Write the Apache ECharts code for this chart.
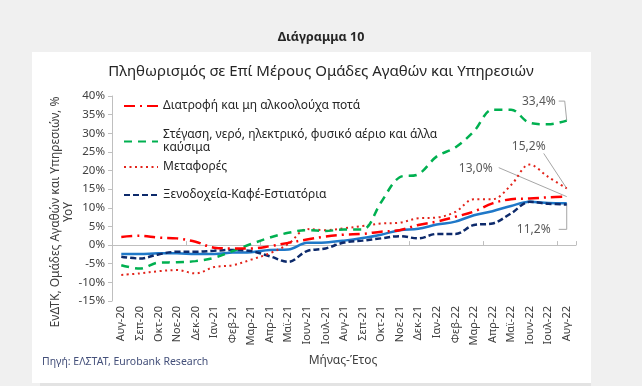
<!DOCTYPE html>
<html><head><meta charset="utf-8">
<script src="https://cdn.jsdelivr.net/npm/echarts@6/dist/echarts.min.js"></script>
<style>html,body{margin:0;padding:0;background:#f0f0f0;}#c{width:642px;height:386px;}</style>
</head><body><div id="c"></div>
<script>
const categories = ['Αυγ-20','Σεπ-20','Οκτ-20','Νοε-20','Δεκ-20','Ιαν-21','Φεβ-21','Μαρ-21','Απρ-21','Μαϊ-21','Ιουν-21','Ιουλ-21','Αυγ-21','Σεπ-21','Οκτ-21','Νοε-21','Δεκ-21','Ιαν-22','Φεβ-22','Μαρ-22','Απρ-22','Μαϊ-22','Ιουν-22','Ιουλ-22','Αυγ-22'];
const food      = [2.2, 2.5, 2.0, 1.8, 0.9, -0.7, -0.9, -0.9, -0.3, 0.6, 1.5, 2.3, 2.8, 3.0, 3.6, 4.0, 5.4, 6.3, 7.6, 9.0, 11.2, 12.3, 12.5, 12.8, 13.0];
const housing   = [-5.4, -6.3, -4.7, -4.6, -4.3, -3.4, -1.6, 0.3, 2.0, 3.3, 4.0, 3.8, 4.2, 4.2, 11.5, 18.2, 19.0, 23.8, 26.2, 30.5, 36.3, 36.3, 32.8, 32.4, 33.4];
const transport = [-8.0, -7.6, -7.0, -6.7, -7.6, -5.9, -5.4, -3.9, -2.2, 0.3, 4.3, 4.0, 4.5, 5.1, 5.8, 6.0, 7.2, 7.4, 8.9, 12.3, 12.3, 16.1, 21.6, 18.3, 15.2];
const hotels    = [-3.1, -3.6, -2.5, -1.8, -1.8, -1.5, -1.3, -1.6, -3.0, -4.5, -1.6, -0.9, 0.7, 1.2, 1.8, 2.4, 1.8, 3.0, 3.0, 5.4, 5.8, 8.5, 11.6, 11.1, 10.9];
const headline  = [-2.4, -2.4, -2.2, -2.2, -2.4, -2.4, -2.0, -1.9, -1.3, -1.2, 0.6, 0.7, 1.2, 1.9, 2.8, 4.0, 4.4, 5.5, 6.3, 8.0, 9.1, 10.5, 11.6, 11.3, 11.2];
const yMin = -15, yMax = 40, yStep = 5;
const names = {
  food: 'Διατροφή και μη αλκοολούχα ποτά',
  housing: 'Στέγαση, νερό, ηλεκτρικό, φυσικό αέριο και άλλα\nκαύσιμα',
  transport: 'Μεταφορές',
  hotels: 'Ξενοδοχεία-Καφέ-Εστιατόρια',
  headline: 'ΕνΔΤΚ'
};
const labels = { housing: '33,4%', transport: '15,2%', food: '13,0%', headline: '11,2%' };

const FONT = 'Noto Sans';
const chart = echarts.init(document.getElementById('c'), null, {renderer: 'canvas'});
const legTxt = {fontFamily: FONT, fontSize: 12, color: '#262626'};
function leg(name, top, extra) {
  return Object.assign({data: [name], left: 123, top: top, padding: 0, itemWidth: 34, itemHeight: 14, itemGap: 0,
    itemStyle: {opacity: 0, color: 'transparent', borderWidth: 0},
    textStyle: Object.assign({}, legTxt), selectedMode: false}, extra || {});
}
const option = {
  backgroundColor: '#f0f0f0',
  animation: false,
  textStyle: {fontFamily: FONT},
  grid: {left: 112, right: 66, top: 96, bottom: 85, containLabel: false},
  xAxis: [
    {type: 'category', data: categories, boundaryGap: true, position: 'bottom',
     axisLine: {show: false, onZero: false}, axisTick: {show: false},
     axisLabel: {rotate: 90, interval: 0, margin: 5, fontFamily: FONT, fontSize: 11, color: '#404040'}},
    {type: 'category', data: categories, boundaryGap: true, position: 'bottom',
     axisLine: {show: true, onZero: true, lineStyle: {color: '#bfbfbf', width: 1}},
     axisTick: {show: true, inside: true, length: 4, lineStyle: {color: '#bfbfbf'}},
     axisLabel: {show: false}}
  ],
  yAxis: {type: 'value', min: yMin, max: yMax, interval: yStep,
    axisLine: {show: true, lineStyle: {color: '#bfbfbf'}},
    axisTick: {show: true, length: 4, lineStyle: {color: '#bfbfbf'}},
    splitLine: {show: false},
    axisLabel: {formatter: '{value}%', margin: 7, fontFamily: FONT, fontSize: 11.5, color: '#404040'}},
  legend: [
    leg(names.food, 100),
    leg(names.housing, 122, {textStyle: Object.assign({}, legTxt, {lineHeight: 13, padding: [13, 0, 0, 0]})}),
    leg(names.transport, 161),
    leg(names.hotels, 189)
  ],
  series: [
    {name: names.headline, type: 'line', data: headline, smooth: 0.35, symbol: 'none', z: 3,
     lineStyle: {color: '#1f78c8', width: 2.5, type: 'solid'}, itemStyle: {color: '#1f78c8'}},
    {name: names.hotels, type: 'line', data: hotels, smooth: 0.35, symbol: 'none',
     lineStyle: {color: '#0d2a6b', width: 2.5, type: [6, 3]}, itemStyle: {color: '#0d2a6b'}},
    {name: names.transport, type: 'line', data: transport, smooth: 0.35, symbol: 'none',
     lineStyle: {color: '#e2231a', width: 2, type: [2, 3.5]}, itemStyle: {color: '#e2231a'}},
    {name: names.housing, type: 'line', data: housing, smooth: 0.35, symbol: 'none',
     lineStyle: {color: '#00b050', width: 2.5, type: [8, 6]}, itemStyle: {color: '#00b050'}},
    {name: names.food, type: 'line', data: food, smooth: 0.35, symbol: 'none',
     lineStyle: {color: '#ff0000', width: 2.5, type: [11, 5, 2, 5]}, itemStyle: {color: '#ff0000'}}
  ],
  graphic: [
    {id: 'panel', type: 'rect', z: -100, silent: true, shape: {x: 32, y: 52, width: 559, height: 331}, style: {fill: '#ffffff'}},
    {id: 'band', type: 'rect', z: -100, silent: true, shape: {x: 40, y: 383, width: 551, height: 3}, style: {fill: '#e3e3e3'}},
    {id: 'fig', type: 'text', x: 321, y: 37, silent: true, style: {text: 'Διάγραμμα 10', textAlign: 'center', textVerticalAlign: 'middle', font: 'bold 12.5px "Noto Sans"', fill: '#262626'}},
    {id: 'ttl', type: 'text', x: 321, y: 72, silent: true, style: {text: 'Πληθωρισμός σε Επί Μέρους Ομάδες Αγαθών και Υπηρεσιών', textAlign: 'center', textVerticalAlign: 'middle', font: '15px "Noto Sans"', fill: '#262626'}},
    {id: 'ytl', type: 'text', x: 62, y: 212, rotation: Math.PI / 2, silent: true, style: {text: 'ΕνΔΤΚ, Ομάδες Αγαθών και Υπηρεσιών, %\nΥοΥ', textAlign: 'center', textVerticalAlign: 'middle', font: '12px "Noto Sans"', lineHeight: 13, fill: '#404040'}},
    {id: 'xtl', type: 'text', x: 343, y: 361, silent: true, style: {text: 'Μήνας-Έτος', textAlign: 'center', textVerticalAlign: 'middle', font: '12px "Noto Sans"', fill: '#404040'}},
    {id: 'src', type: 'text', x: 42, y: 362, silent: true, style: {text: 'Πηγή: ΕΛΣΤΑΤ, Eurobank Research', textAlign: 'left', textVerticalAlign: 'middle', font: '10.5px "Noto Sans"', fill: '#44507a'}}
  ]
};
chart.setOption(option);

const last = categories[categories.length - 1];
function endPt(arr) { return chart.convertToPixel({xAxisIndex: 0, yAxisIndex: 0}, [last, arr[arr.length - 1]]); }
const lblStyle = {font: '12px "Noto Sans"', fill: '#595959', textVerticalAlign: 'middle'};
const lc = '#a6a6a6';
const g = [];
let p = endPt(housing);
g.push({id: 'l1t', type: 'text', x: p[0] - 11, y: p[1] - 19.5, style: Object.assign({text: labels.housing, textAlign: 'right'}, lblStyle)});
g.push({id: 'l1l', type: 'polyline', shape: {points: [[p[0] - 8, p[1] - 19.5], [p[0] - 2, p[1] - 19.5], [p[0], p[1]]]}, style: {stroke: lc, lineWidth: 1, fill: null}});
p = endPt(transport);
g.push({id: 'l2t', type: 'text', x: p[0] - 38, y: p[1] - 42, style: Object.assign({text: labels.transport, textAlign: 'center'}, lblStyle)});
g.push({id: 'l2l', type: 'polyline', shape: {points: [[p[0] - 23, p[1] - 35], [p[0], p[1]]]}, style: {stroke: lc, lineWidth: 1, fill: null}});
p = endPt(food);
g.push({id: 'l3t', type: 'text', x: p[0] - 91, y: p[1] - 28.5, style: Object.assign({text: labels.food, textAlign: 'center'}, lblStyle)});
g.push({id: 'l3l', type: 'polyline', shape: {points: [[p[0] - 68, p[1] - 29], [p[0], p[1]]]}, style: {stroke: lc, lineWidth: 1, fill: null}});
p = endPt(headline);
g.push({id: 'l4t', type: 'text', x: p[0] - 33, y: p[1] + 26, style: Object.assign({text: labels.headline, textAlign: 'center'}, lblStyle)});
g.push({id: 'l4l', type: 'polyline', shape: {points: [[p[0] - 8, p[1] + 26], [p[0], p[1] + 26], [p[0], p[1]]]}, style: {stroke: lc, lineWidth: 1, fill: null}});
chart.setOption({graphic: g});
</script></body></html>
